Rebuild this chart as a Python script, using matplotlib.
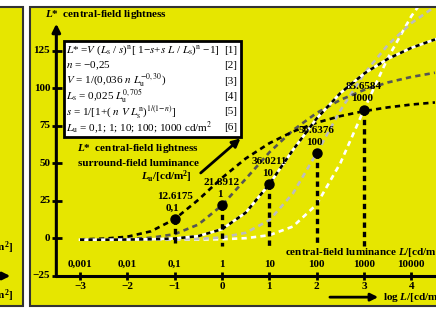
import matplotlib
matplotlib.use("Agg")
import matplotlib.pyplot as plt
from matplotlib.patches import Rectangle, FancyArrowPatch

plt.rcParams['mathtext.fontset'] = 'custom'
plt.rcParams['mathtext.rm'] = 'Liberation Serif:bold'
plt.rcParams['mathtext.it'] = 'Liberation Serif:italic:bold'
plt.rcParams['mathtext.bf'] = 'Liberation Serif:bold'

# ---------------- data ----------------
log_L = [-3.0, -2.5, -2.0, -1.5, -1.0, -0.5, 0.0, 0.5, 1.0, 1.5, 2.0, 2.5, 3.0, 3.5, 4.0, 4.5]
lstar_Lu_0_1 = [-0.8, -0.3, 1.0, 4.6, 12.7, 25.6, 40.2, 53.1, 63.3, 71.1, 77.0, 81.4, 84.7, 87.2, 89.1, 90.5]
lstar_Lu_1 = [-0.9, -0.9, -0.6, 0.3, 2.7, 9.1, 21.9, 39.5, 57.2, 72.0, 83.5, 92.2, 98.8, 103.8, 107.5, 110.3]
lstar_Lu_10 = [-1.0, -1.0, -0.9, -0.7, -0.2, 1.4, 6.0, 17.0, 36.0, 58.9, 79.8, 96.7, 109.7, 119.5, 126.9, 132.5]
lstar_Lu_100 = [-1.0, -1.0, -1.0, -0.9, -0.8, -0.5, 0.5, 3.6, 12.0, 29.9, 56.7, 85.1, 109.5, 128.7, 143.4, 154.4]
lstar_Lu_1000 = [-1.0, -1.0, -1.0, -1.0, -1.0, -0.9, -0.7, 0.0, 2.0, 7.8, 22.5, 50.0, 85.7, 119.9, 148.0, 169.8]

point_logL = [-1, 0, 1, 2, 3]
point_lstar = [12.6175, 21.8912, 36.0211, 56.6376, 85.6584]
point_value_labels = ['12.6175', '21.8912', '36.0211', '56.6376', '85.6584']
point_Lu_labels = ['0,1', '1', '10', '100', '1000']

y_ticks = [-25, 0, 25, 50, 75, 100, 125]
y_tick_labels = ['\u221225', '0', '25', '50', '75', '100', '125']
x_ticks = [-3, -2, -1, 0, 1, 2, 3, 4]
x_tick_labels = ['\u22123', '\u22122', '\u22121', '0', '1', '2', '3', '4']
x_lum_labels = ['0,001', '0,01', '0,1', '1', '10', '100', '1000', '10000']

YEL = '#e6e600'
W, H = 436, 309

fig = plt.figure(figsize=(W / 100, H / 100), dpi=100)
fig.patch.set_facecolor('white')

def fx(px):
    return px / W

def fy(py):
    return 1 - py / H

# panels
fig.add_artist(Rectangle((fx(-20), fy(306)), fx(42.5), (306 - 7) / H, transform=fig.transFigure,
                         facecolor=YEL, edgecolor='#333333', lw=1.5, zorder=0))
fig.add_artist(Rectangle((fx(30), fy(306)), fx(430), (306 - 7) / H, transform=fig.transFigure,
                         facecolor=YEL, edgecolor='#333333', lw=1.5, zorder=0))

# left panel partial texts
tb = dict(fontfamily='Liberation Serif', fontweight='bold', fontsize=8, color='black')
fig.text(fx(13), fy(248), 'central-field luminance $L$/[cd/m$^2$]', ha='right', va='center', **tb)
fig.text(fx(13), fy(296), 'log $L$/[cd/m$^2$]', ha='right', va='center', **tb)
fig.add_artist(FancyArrowPatch((fx(-20), fy(276)), (fx(13), fy(276)), transform=fig.transFigure,
                               arrowstyle='-|>', mutation_scale=11, lw=2, color='black'))

# main axes: x_pix = 222 + 47.33*logL, y_pix = 238.2 - 1.5*v
ax = fig.add_axes([fx(31), fy(305), fx(436 - 31), (305 - 8) / H])
ax.set_xlim((31 - 222) / 47.33, (436 - 222) / 47.33)
ax.set_ylim((238.2 - 305) / 1.5, (238.2 - 8) / 1.5)
ax.axis('off')
ax.patch.set_alpha(0)

# axes lines
ax.annotate('', xy=(-3.5, 143), xytext=(-3.5, -25.6),
            arrowprops=dict(arrowstyle='-|>', lw=2.2, color='black', mutation_scale=12, shrinkA=0, shrinkB=0))
ax.plot([-3.5, 5], [-25, -25], color='black', lw=2.2, solid_capstyle='butt', clip_on=False)
for t, lab in zip(y_ticks, y_tick_labels):
    ax.plot([-3.6, -3.39], [t, t], color='black', lw=2, solid_capstyle='butt')
    ax.text(-3.63, t, lab, ha='right', va='center', **tb)
for t, lab, lum in zip(x_ticks, x_tick_labels, x_lum_labels):
    ax.plot([t, t], [-27.7, -22.3], color='black', lw=2, solid_capstyle='butt')
    ax.text(t, -32.0, lab, ha='center', va='center', **tb)
    ax.text(t, -17.3, lum, ha='center', va='center', **tb)
ax.text(1.33, -9.4, 'central-field luminance $L$/[cd/m$^2$]', ha='left', va='center', **tb)
ax.annotate('', xy=(3.30, -39.3), xytext=(2.28, -39.3),
            arrowprops=dict(arrowstyle='-|>', lw=2, color='black', mutation_scale=11, shrinkA=0, shrinkB=0))
ax.text(3.40, -39.6, 'log $L$/[cd/m$^2$]', ha='left', va='center', **tb)
ax.text(-3.74, 148.8, '$L$*  central-field lightness', ha='left', va='center', **tb)

# formula box
ax.add_patch(Rectangle((-3.338, 67.5), 0.401 + 3.338, 131.5 - 67.5, facecolor='white',
                       edgecolor='black', lw=2, zorder=3))
fb = dict(fontfamily='Liberation Serif', fontsize=8, color='black', math_fontfamily='stix',
          va='center', zorder=4)
formula_lines = [
    '$L$* =$V$ ($L_{\\mathrm{s}}$ / $s$)$^{\\mathrm{n}}$[ 1\u2212$s$+$s$ $L$ / $L_{\\mathrm{s}}$)$^{\\mathrm{n}}$ \u22121]',
    '$n$ = \u22120,25',
    '$V$ = 1/(0,036 $n$ $L_{\\mathrm{u}}^{\u22120,30}$)',
    '$L_{\\mathrm{s}}$ = 0,025 $L_{\\mathrm{u}}^{0,705}$',
    '$s$ = 1/[1+( $n$ $V$ $L_{\\mathrm{s}}^{\\mathrm{n}}$)$^{1/(1\\mathrm{-}n)}$]',
    '$L_{\\mathrm{u}}$ = 0,1; 1; 10; 100; 1000 cd/m$^2$',
]
line_y = [125.4, 115.0, 104.8, 94.6, 84.2, 73.8]
for i, (s, yv) in enumerate(zip(formula_lines, line_y)):
    ax.text(-3.30, yv, s, ha='left', **fb)
    ax.text(0.32, yv, '[%d]' % (i + 1), ha='right', **fb)

# middle labels
ax.text(-1.77, 60.1, '$L$*  central-field lightness', ha='center', va='center', **tb)
ax.text(-1.77, 50.1, 'surround-field luminance', ha='center', va='center', **tb)
ax.text(-1.18, 40.8, '$L_{\\mathrm{u}}$/[cd/m$^2$]', ha='center', va='center', **tb)
ax.annotate('', xy=(0.39, 66.5), xytext=(-0.45, 43.5),
            arrowprops=dict(arrowstyle='-|>', lw=2, color='black', mutation_scale=12, shrinkA=0, shrinkB=0))

# curves
lw = 1.9
ax.plot(log_L, lstar_Lu_1000, color='white', lw=lw, dashes=(2, 1.6), zorder=5)
ax.plot(log_L, lstar_Lu_100, color='#bdbdbd', lw=lw, dashes=(2, 1.6), zorder=5)
ax.plot(log_L, lstar_Lu_1, color='#555555', lw=lw, dashes=(2, 1.6), zorder=5)
ax.plot(log_L, lstar_Lu_0_1, color='black', lw=lw, dashes=(2, 1.6), zorder=5)
ax.plot(log_L, lstar_Lu_10, color='white', lw=lw, zorder=6)
ax.plot(log_L, lstar_Lu_10, color='black', lw=lw, dashes=(1.6, 1.6), zorder=6)

# points and vertical lines
for xv, yv, vl, ll in zip(point_logL, point_lstar, point_value_labels, point_Lu_labels):
    ax.plot([xv, xv], [yv, -5], color='black', lw=2.4, dashes=(1.6, 1.2), zorder=7)
    ax.plot([xv], [yv], 'o', color='black', ms=6.5, zorder=8)
    ax.annotate(vl, xy=(xv, yv), xytext=(0, 23), textcoords='offset pixels',
                ha='center', va='center', zorder=9, **tb)
    ax.annotate(ll, xy=(xv, yv), xytext=(-2, 11), textcoords='offset pixels',
                ha='center', va='center', zorder=9, **tb)

fig.savefig('out.png', dpi=100, facecolor='white')
